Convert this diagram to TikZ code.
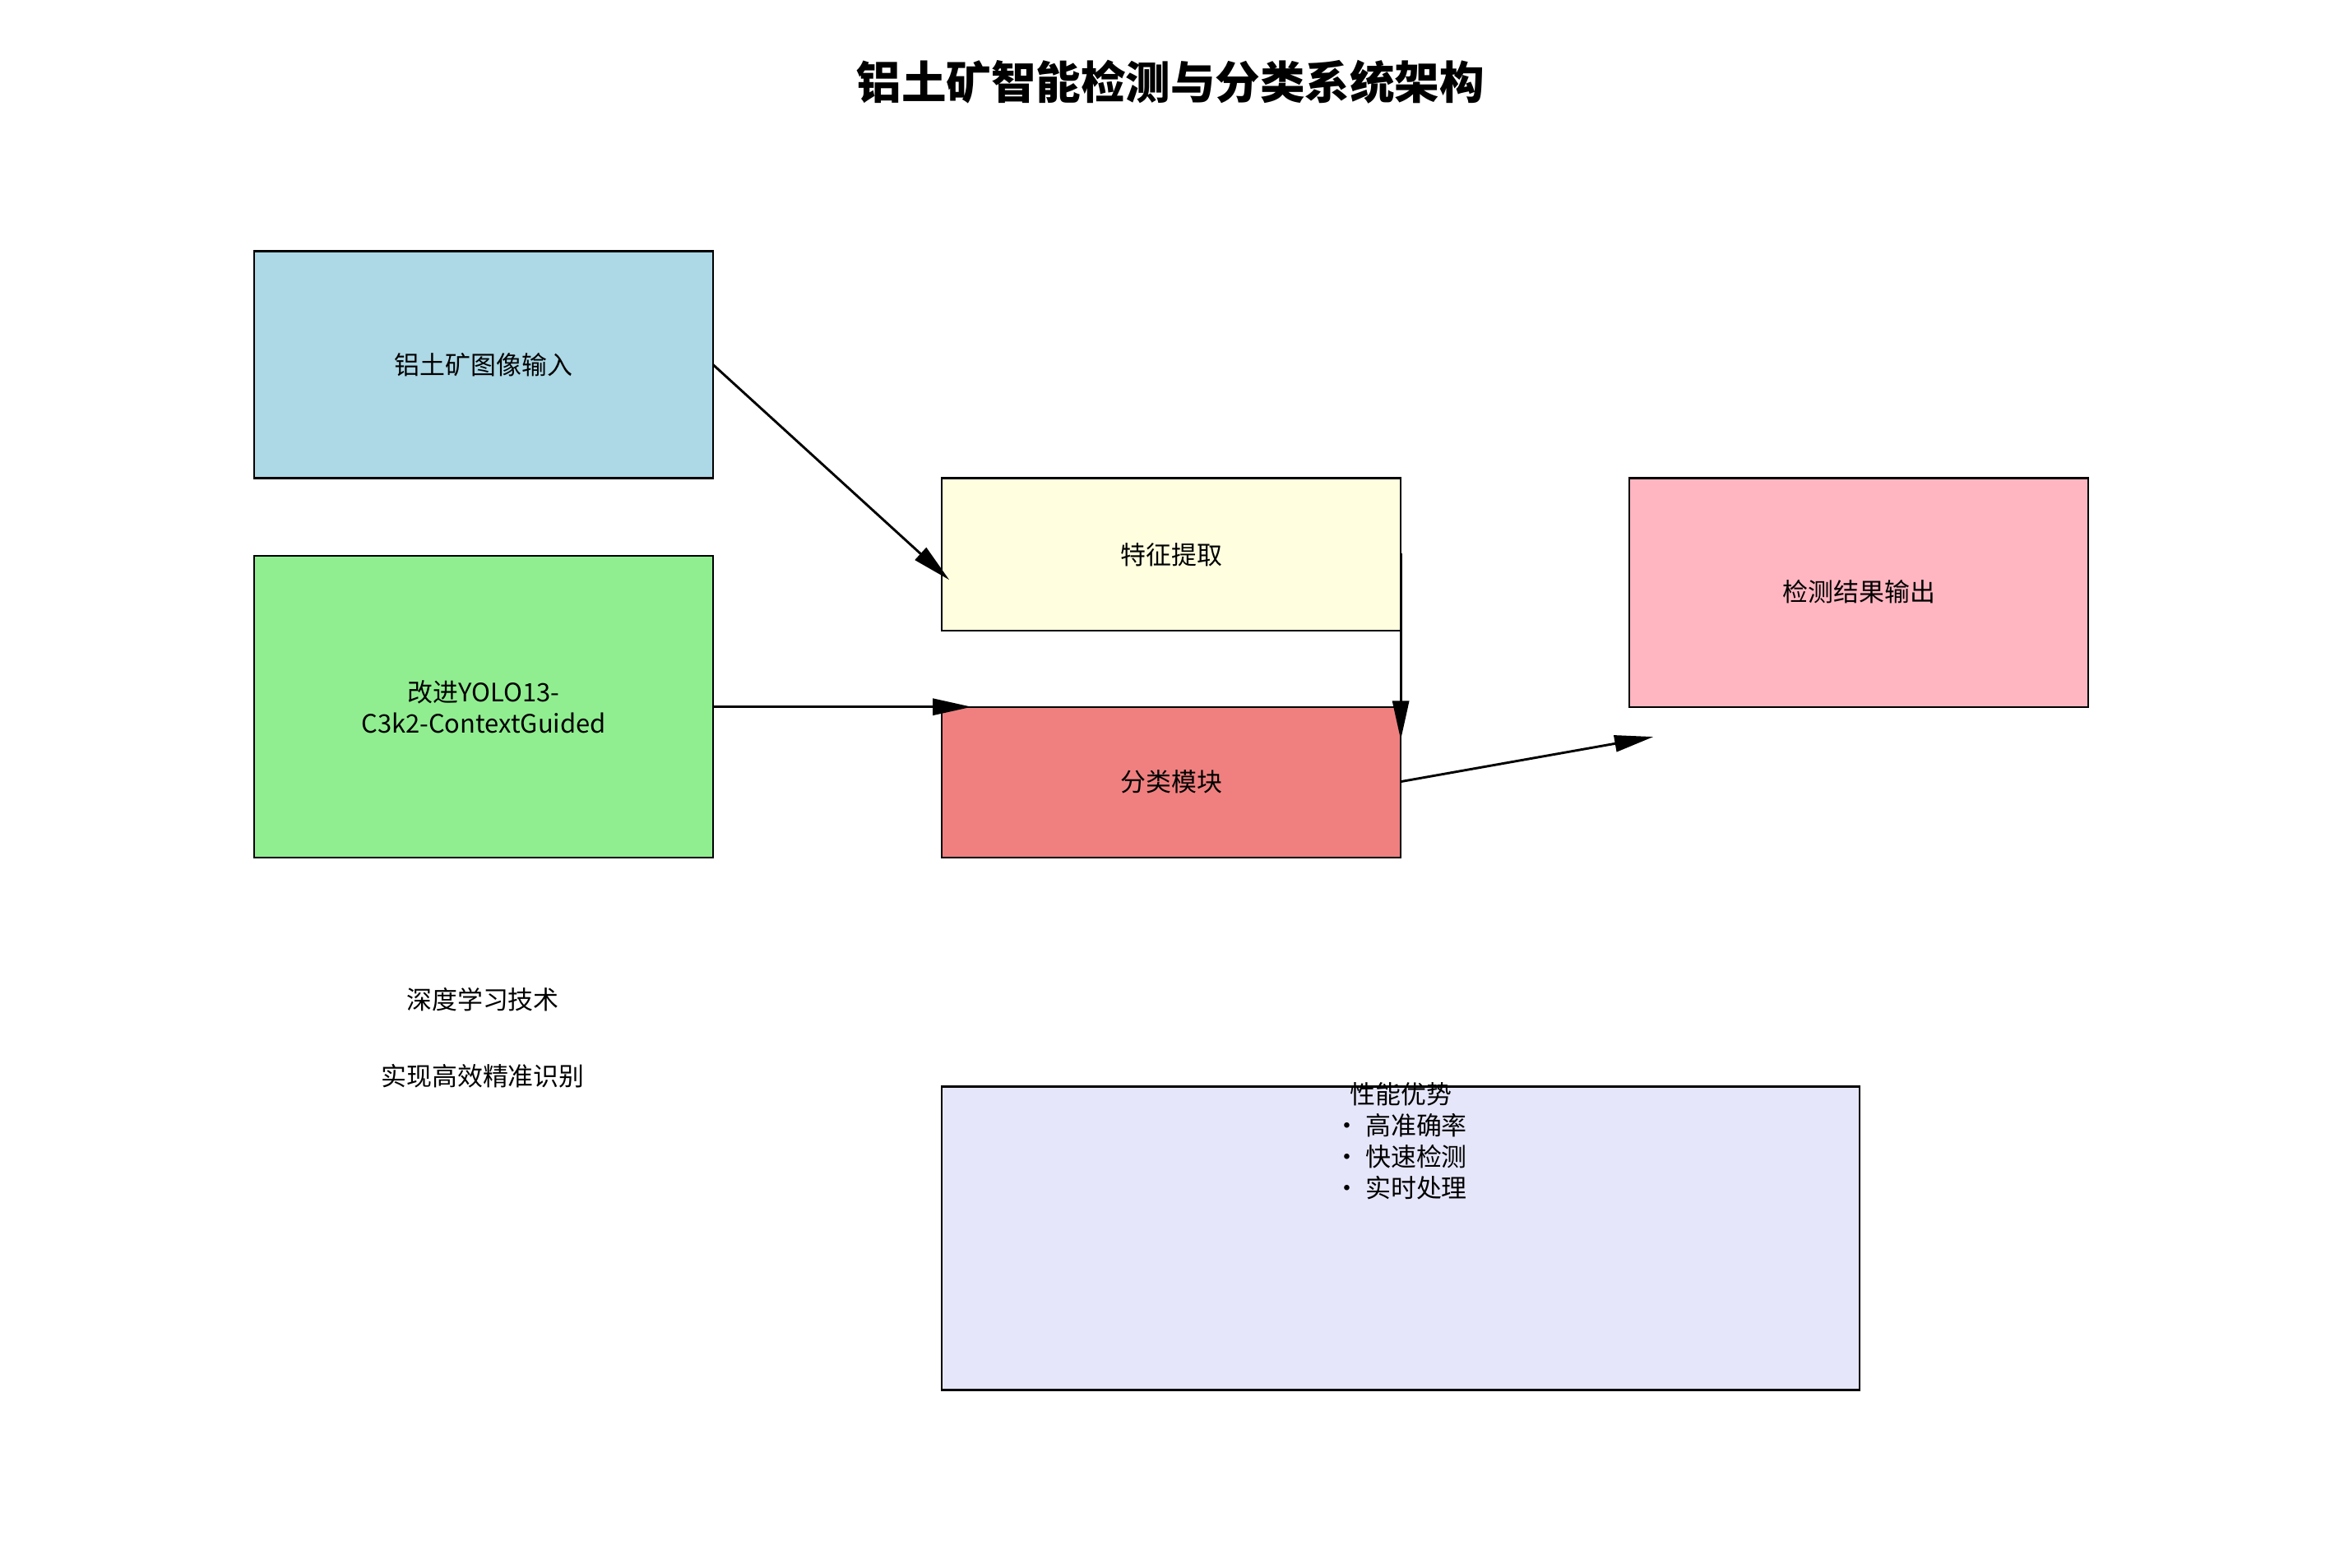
\documentclass[tikz,border=0pt]{standalone}
\usepackage{fontspec}
\setmainfont{Noto Sans CJK SC}
\usetikzlibrary{arrows.meta}
\definecolor{cin}{HTML}{ADD8E6}
\definecolor{cmod}{HTML}{90EE90}
\definecolor{cfeat}{HTML}{FFFFE0}
\definecolor{ccls}{HTML}{F08080}
\definecolor{cout}{HTML}{FFB6C1}
\definecolor{cperf}{HTML}{E6E6FA}
\tikzset{
 box/.style={draw=black,line width=1.3pt},
 lbl/.style={font=\fontsize{17}{21}\selectfont,align=center},
 arr/.style={line width=1.6pt,-{Triangle[length=26pt,width=11pt]}}
}
\begin{document}
\begin{tikzpicture}[x=1pt,y=-1pt]
\useasboundingbox (0,0) rectangle (1568,1049);
\node[font=\fontsize{30}{36}\selectfont\bfseries] (title) at (783,55) {铝土矿智能检测与分类系统架构};
\draw[box,fill=cin] (170,168) rectangle (477,320);
\node[lbl] (in) at (323.5,244) {铝土矿图像输入};
\draw[box,fill=cmod] (170,372) rectangle (477,574);
\node[lbl] (mod) at (323.5,473) {改进YOLO13-\\C3k2-ContextGuided};
\draw[box,fill=cfeat] (630,320) rectangle (937,422);
\node[lbl] (feat) at (783.5,371) {特征提取};
\draw[box,fill=ccls] (630,473) rectangle (937,574);
\node[lbl] (cls) at (783.5,523) {分类模块};
\draw[box,fill=cout] (1090,320) rectangle (1397,473);
\node[lbl] (out) at (1243.5,396) {检测结果输出};
\draw[box,fill=cperf] (630,727) rectangle (1244,930);
\node[lbl,anchor=north,inner sep=0pt] (perf) at (937,724) {性能优势\\• 高准确率\\• 快速检测\\• 实时处理};
\node[lbl] (t1) at (323,669) {深度学习技术};
\node[lbl] (t2) at (323,720) {实现高效精准识别};
\coordinate (a1s) at (477,244); \coordinate (a1e) at (635,388);
\coordinate (a2s) at (477,473); \coordinate (a2e) at (650,473);
\coordinate (a3s) at (937,370); \coordinate (a3e) at (937,495);
\coordinate (a4s) at (937,523); \coordinate (a4e) at (1106,493);
\draw[arr] (a1s) -- (a1e);
\draw[arr] (a2s) -- (a2e);
\draw[arr] (a3s) -- (a3e);
\draw[arr] (a4s) -- (a4e);
\end{tikzpicture}
\end{document}
